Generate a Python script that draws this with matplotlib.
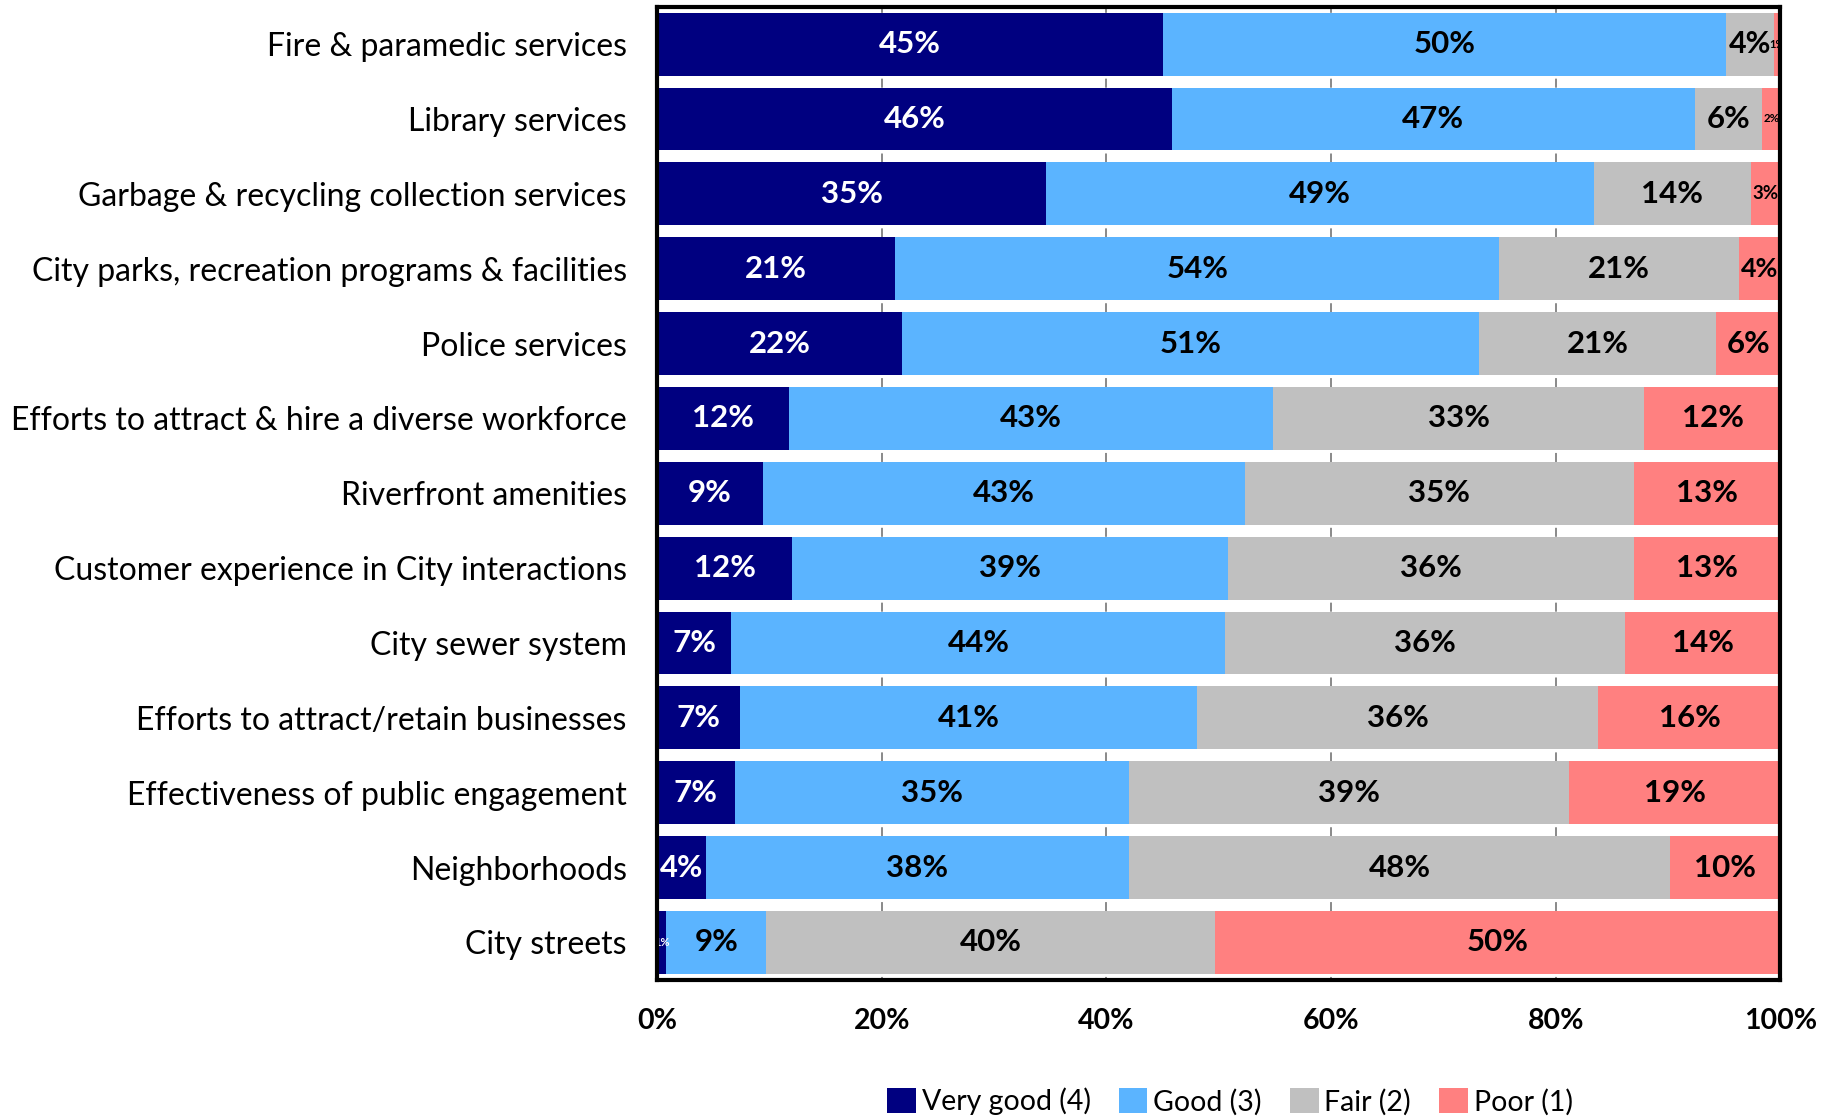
import numpy as np
import matplotlib
matplotlib.use("Agg")
from matplotlib import pyplot as plt

plt.rcParams['font.family'] = ['Lato', 'DejaVu Sans']
plt.rcParams['lines.scale_dashes'] = False

# Catégories (du haut vers le bas)
categories = [
    "Fire & paramedic services",
    "Library services",
    "Garbage & recycling collection services",
    "City parks, recreation programs & facilities",
    "Police services",
    "Efforts to attract & hire a diverse workforce",
    "Riverfront amenities",
    "Customer experience in City interactions",
    "City sewer system",
    "Efforts to attract/retain businesses",
    "Effectiveness of public engagement",
    "Neighborhoods",
    "City streets",
]

very_good = [45.0, 45.8, 34.6, 21.2, 21.8, 11.7, 9.4, 12.0, 6.6, 7.4, 6.9, 4.3, 0.8]
good = [50.2, 46.6, 48.8, 53.8, 51.4, 43.1, 42.9, 38.8, 44.0, 40.7, 35.1, 37.7, 8.9]
fair = [4.2, 6.0, 14.0, 21.3, 21.1, 33.1, 34.7, 36.2, 35.6, 35.7, 39.2, 48.2, 40.0]
poor = [0.6, 1.6, 2.6, 3.7, 5.8, 12.2, 13.0, 13.0, 13.8, 16.3, 18.8, 9.8, 50.3]

series_names = ["Very good (4)", "Good (3)", "Fair (2)", "Poor (1)"]
colors = ["#000080", "#5BB4FF", "#C0C0C0", "#FF8080"]
text_colors = ["white", "black", "black", "black"]

series = [very_good, good, fair, poor]

fig = plt.figure(figsize=(18.41, 11.16), dpi=100)
ax = fig.add_axes([0.357, 0.122, 0.610, 0.872])

y = np.arange(len(categories))
left = np.zeros(len(categories))

for vals, name, col, tcol in zip(series, series_names, colors, text_colors):
    vals = np.array(vals)
    ax.barh(y, vals, left=left, height=0.84, color=col, label=name, zorder=2)
    for yi, (l, v) in enumerate(zip(left, vals)):
        # taille du texte réduite pour les petits segments
        fs = min(22.5, max(8, v * 5.2))
        ax.text(l + v / 2, yi, f"{v:.0f}%", ha="center", va="center",
                fontsize=fs, fontweight="bold", color=tcol, zorder=3,
                clip_on=True)
    left += vals

ax.set_xlim(0, 100)
ax.set_ylim(len(categories) - 0.5, -0.5)
ax.set_yticks(y)
ax.set_yticklabels(categories, fontsize=23)
ax.set_xticks(np.arange(0, 101, 20))
ax.set_xticklabels([f"{t}%" for t in range(0, 101, 20)], fontsize=20.5, fontweight="bold")
ax.tick_params(axis="y", length=0, pad=22)
ax.tick_params(axis="x", length=0, pad=20)

# petits repères de grille visibles seulement entre les barres
row_pt = 0.872 * 11.16 * 72 / len(categories)
ax.grid(axis="x", color="#808080", linewidth=1.3,
        linestyle=(4.3, (6.5, row_pt - 6.5)), zorder=1)
for s in ax.spines.values():
    s.set_linewidth(3)
    s.set_color("black")
    s.set_zorder(4)

ax.legend(loc="center", bbox_to_anchor=(0.51, -0.125), ncol=4, frameon=False,
          fontsize=20.5, handlelength=1.0, handleheight=1.0, handletextpad=0.2,
          columnspacing=1.0)

fig.savefig("out.png", dpi=100)
